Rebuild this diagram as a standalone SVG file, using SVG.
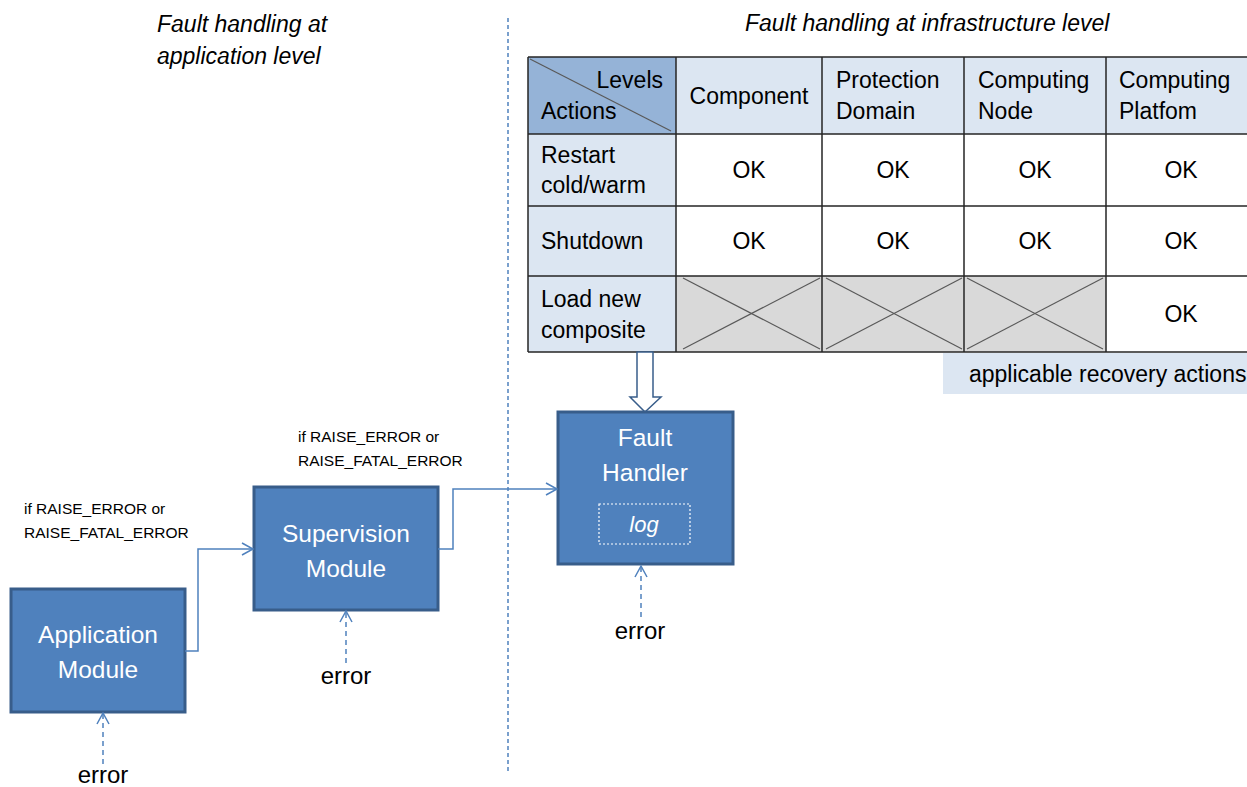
<svg xmlns="http://www.w3.org/2000/svg" width="1247" height="787" viewBox="0 0 1247 787">
<style>
text{font-family:"Liberation Sans",Arial,sans-serif;fill:#000}
.t{font-size:23px}
.c{text-anchor:middle}
.it{font-style:italic;font-size:23px}
.sm{font-size:15.5px}
.er{font-size:24px;text-anchor:middle}
.box{fill:#4f81bd;stroke:#385d8a;stroke-width:3}
.wt{fill:#fff;font-size:24.5px;text-anchor:middle}
.grid{stroke:#262626;stroke-width:1.5;fill:none}
.xl{stroke:#595959;stroke-width:1.2}
.conn{stroke:#4f81bd;stroke-width:1.5;fill:none}
.dash{stroke:#4f81bd;stroke-width:1.5;fill:none;stroke-dasharray:5,4}
</style>
<defs>
<marker id="open" markerWidth="14" markerHeight="14" refX="12" refY="7" orient="auto" markerUnits="userSpaceOnUse">
<path d="M1,1 L12,7 L1,13" fill="none" stroke="#4f81bd" stroke-width="1.5"/>
</marker>
</defs>
<rect width="1247" height="787" fill="#fff"/>

<!-- divider -->
<line x1="508" y1="18" x2="508" y2="772" stroke="#4f81bd" stroke-width="1.5" stroke-dasharray="4,3"/>

<!-- titles -->
<text class="it" x="157" y="32">Fault handling at</text>
<text class="it" x="157" y="64">application level</text>
<text class="it" x="745" y="31">Fault handling at infrastructure level</text>

<!-- table -->
<g id="table">
<rect x="528" y="57" width="719" height="77" fill="#dce6f2"/>
<rect x="528" y="57" width="148" height="77" fill="#95b3d7"/>
<rect x="528" y="134" width="148" height="218" fill="#dce6f2"/>
<rect x="676" y="276" width="430" height="76" fill="#d9d9d9"/>
<line class="xl" x1="530" y1="59" x2="671" y2="131"/>
<line class="xl" x1="683" y1="278" x2="820" y2="349"/>
<line class="xl" x1="683" y1="349" x2="820" y2="278"/>
<line class="xl" x1="826" y1="278" x2="962" y2="349"/>
<line class="xl" x1="826" y1="349" x2="962" y2="278"/>
<line class="xl" x1="967" y1="278" x2="1103" y2="349"/>
<line class="xl" x1="967" y1="349" x2="1103" y2="278"/>
<path class="grid" d="M528,57 H1247 M528,134 H1247 M528,206 H1247 M528,276 H1247 M528,352 H1247 M528,57 V352 M676,57 V352 M822,57 V352 M964,57 V352 M1106,57 V352"/>
<text class="t" x="663" y="88" text-anchor="end">Levels</text>
<text class="t" x="541" y="119">Actions</text>
<text class="t c" x="749" y="104">Component</text>
<text class="t" x="836" y="88">Protection</text>
<text class="t" x="836" y="119">Domain</text>
<text class="t" x="978" y="88">Computing</text>
<text class="t" x="978" y="119">Node</text>
<text class="t" x="1119" y="88">Computing</text>
<text class="t" x="1119" y="119">Platfom</text>
<text class="t" x="541" y="163">Restart</text>
<text class="t" x="541" y="193">cold/warm</text>
<text class="t" x="541" y="249">Shutdown</text>
<text class="t" x="541" y="307">Load new</text>
<text class="t" x="541" y="338">composite</text>
<text class="t c" x="749" y="178">OK</text>
<text class="t c" x="893" y="178">OK</text>
<text class="t c" x="1035" y="178">OK</text>
<text class="t c" x="1181" y="178">OK</text>
<text class="t c" x="749" y="249">OK</text>
<text class="t c" x="893" y="249">OK</text>
<text class="t c" x="1035" y="249">OK</text>
<text class="t c" x="1181" y="249">OK</text>
<text class="t c" x="1181" y="322">OK</text>
</g>

<g id="recovery-label">
<rect x="943" y="353" width="304" height="41" fill="#dce6f2"/>
<text class="t" x="969" y="382">applicable recovery actions</text>
</g>

<g id="hollow-arrow">
<path d="M637,352 H653 V397 H661 L645,412 L630,397 H637 Z" fill="#fff" stroke="#385d8a" stroke-width="1.5"/>
</g>

<g id="fault-handler">
<rect class="box" x="558" y="412" width="175" height="152"/>
<text class="wt" x="645" y="446">Fault</text>
<text class="wt" x="645" y="481">Handler</text>
<rect x="599" y="504" width="91" height="40" fill="none" stroke="#fff" stroke-width="1.2" stroke-dasharray="2,2"/>
<text class="wt" x="644" y="532" style="font-style:italic;font-size:22px">log</text>
</g>

<g id="supervision-module">
<rect class="box" x="254" y="487" width="184" height="123"/>
<text class="wt" x="346" y="542">Supervision</text>
<text class="wt" x="346" y="577">Module</text>
</g>

<g id="application-module">
<rect class="box" x="11" y="589" width="174" height="123"/>
<text class="wt" x="98" y="643">Application</text>
<text class="wt" x="98" y="678">Module</text>
</g>

<g id="labels">
<text class="sm" x="24" y="514">if RAISE_ERROR or</text>
<text class="sm" x="24" y="538">RAISE_FATAL_ERROR</text>
<text class="sm" x="298" y="442">if RAISE_ERROR or</text>
<text class="sm" x="298" y="466">RAISE_FATAL_ERROR</text>
<text class="er" x="103" y="783">error</text>
<text class="er" x="346" y="684">error</text>
<text class="er" x="640" y="639">error</text>
</g>

<g id="connectors">
<path class="conn" d="M185,651 H198 V549 H253" marker-end="url(#open)"/>
<path class="conn" d="M438,549 H453 V489 H557" marker-end="url(#open)"/>
<path class="dash" d="M103,764 V713" marker-end="url(#open)"/>
<path class="dash" d="M346,663 V611" marker-end="url(#open)"/>
<path class="dash" d="M641,617 V566" marker-end="url(#open)"/>
</g>
</svg>
